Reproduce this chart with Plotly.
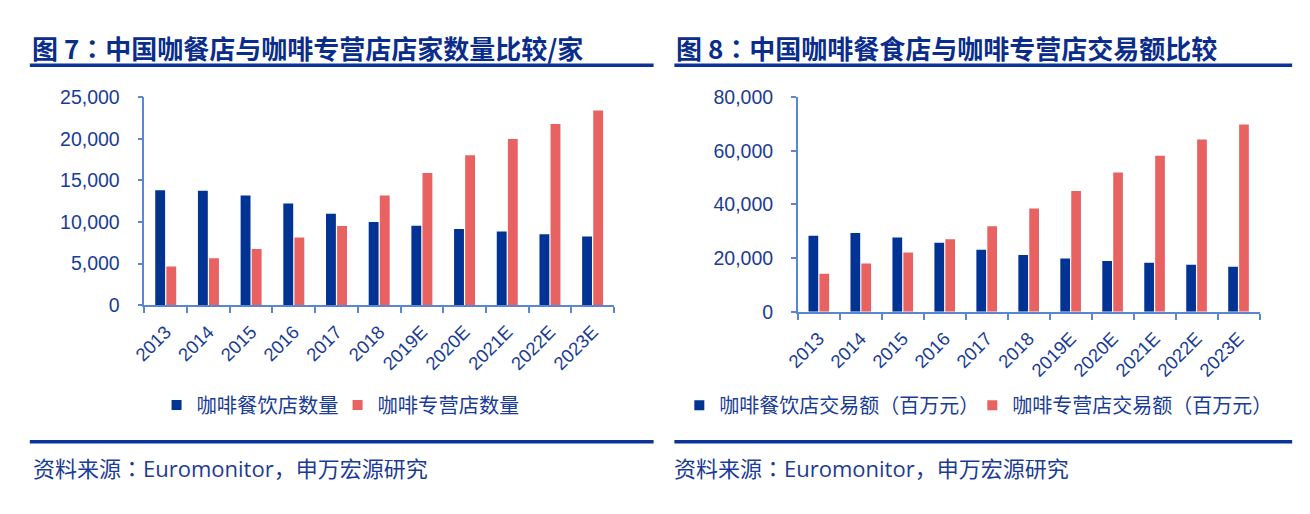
import plotly.graph_objects as go

W, H = 1310, 514

years = ["2013", "2014", "2015", "2016", "2017", "2018", "2019E", "2020E", "2021E", "2022E", "2023E"]

# Figure 7: number of stores
dining_stores = [13820, 13740, 13170, 12210, 10990, 10000, 9540, 9160, 8850, 8510, 8240]
specialty_stores = [4660, 5650, 6760, 8130, 9500, 13170, 15880, 18020, 19960, 21760, 23400]

# Figure 8: transaction value (million RMB)
dining_sales = [28330, 29390, 27730, 25720, 23110, 21210, 19910, 18960, 18250, 17540, 16830]
specialty_sales = [14220, 18010, 22160, 27020, 31880, 38520, 45040, 51910, 58190, 64240, 69810]

COLON = '<span style="font-family:\'Noto Sans CJK JP\'">：</span>'
COMMA = '<span style="font-family:\'Noto Sans CJK JP\'">，</span>'
title7 = "图 7" + COLON + "中国咖餐店与咖啡专营店店家数量比较/家"
title8 = "图 8" + COLON + "中国咖啡餐食店与咖啡专营店交易额比较"
names7 = ["咖啡餐饮店数量", "咖啡专营店数量"]
names8 = ["咖啡餐饮店交易额（百万元）", "咖啡专营店交易额（百万元）"]
source = "资料来源" + COLON + "Euromonitor" + COMMA + "申万宏源研究"

BLUE = "#003393"
RED = "#E86262"
TXT = "#1a3c96"
AXIS = "#5a86d4"
TITLE = "#0a2d8c"
CJK = "Noto Sans CJK SC"
NUM = "Liberation Sans, Arial"


def px(x):
    return x / W


def py(y):
    return 1 - y / H


fig = go.Figure()

for vals, col, nm in [(dining_stores, BLUE, names7[0]), (specialty_stores, RED, names7[1])]:
    fig.add_trace(go.Bar(x=years, y=vals, marker=dict(color=col, line=dict(width=0)),
                         name=nm, xaxis="x", yaxis="y", showlegend=False))
for vals, col, nm in [(dining_sales, BLUE, names8[0]), (specialty_sales, RED, names8[1])]:
    fig.add_trace(go.Bar(x=years, y=vals, marker=dict(color=col, line=dict(width=0)),
                         name=nm, xaxis="x2", yaxis="y2", showlegend=False))

# legend entries
for col, nm in [(BLUE, names7[0]), (RED, names7[1])]:
    fig.add_trace(go.Scatter(x=[None], y=[None], mode="markers", name=nm,
                             marker=dict(symbol="square", size=10, color=col),
                             xaxis="x", yaxis="y", legend="legend"))
for col, nm in [(BLUE, names8[0]), (RED, names8[1])]:
    fig.add_trace(go.Scatter(x=[None], y=[None], mode="markers", name=nm,
                             marker=dict(symbol="square", size=10, color=col),
                             xaxis="x2", yaxis="y2", legend="legend2"))

xcommon = dict(type="category", showline=True, linecolor=AXIS, linewidth=1.5,
               ticks="outside", tickson="boundaries", ticklen=6, tickcolor=AXIS, tickwidth=1.5,
               tickangle=-45, tickfont=dict(family=NUM, size=18.5, color=TXT), ticklabelstandoff=7,
               showgrid=False, zeroline=False, fixedrange=True)
ycommon = dict(showline=True, linecolor=AXIS, linewidth=1.5, ticks="outside", ticklen=5,
               tickcolor=AXIS, tickwidth=1.5, tickformat=",",
               tickfont=dict(family=NUM, size=19.5, color=TXT), ticklabelstandoff=14,
               showgrid=False, zeroline=False, fixedrange=True)

fig.update_layout(
    width=W, height=H, margin=dict(l=0, r=0, t=0, b=0),
    paper_bgcolor="white", plot_bgcolor="white",
    barmode="group", bargap=0.48, bargroupgap=0.11,
    xaxis=dict(domain=[px(132.7), px(607)], anchor="y", **xcommon),
    yaxis=dict(domain=[py(307.3), py(90)], anchor="x", range=[0, 25000], dtick=5000, **ycommon),
    xaxis2=dict(domain=[px(792.7), px(1259)], anchor="y2", **xcommon),
    yaxis2=dict(domain=[py(314.3), py(90)], anchor="x2", range=[0, 80000], dtick=20000, **ycommon),
    legend=dict(orientation="h", x=px(145), xanchor="left", y=py(412), yanchor="middle",
                font=dict(family=CJK, size=20.3, color=TXT), bgcolor="rgba(0,0,0,0)",
                itemwidth=30, traceorder="normal", entrywidth=136, entrywidthmode="pixels"),
    legend2=dict(orientation="h", x=px(673), xanchor="left", y=py(412), yanchor="middle",
                 font=dict(family=CJK, size=20, color=TXT), bgcolor="rgba(0,0,0,0)",
                 itemwidth=30, traceorder="normal", entrywidth=248, entrywidthmode="pixels"),
)

# titles
fig.add_annotation(text="<b>" + title7 + "</b>", xref="paper", yref="paper", x=px(17), y=py(38.5),
                   xanchor="left", yanchor="middle", showarrow=False,
                   font=dict(family=CJK, size=26, color=TITLE))
fig.add_annotation(text="<b>" + title8 + "</b>", xref="paper", yref="paper", x=px(668), y=py(38.5),
                   xanchor="left", yanchor="middle", showarrow=False,
                   font=dict(family=CJK, size=26, color=TITLE))
# sources
for x0 in (18, 666):
    fig.add_annotation(text=source, xref="paper", yref="paper", x=px(x0), y=py(476),
                       xanchor="left", yanchor="middle", showarrow=False,
                       font=dict(family="Open Sans, " + CJK, size=22, color=TXT))

# rules
for (x0, x1) in [(17, 647), (668, 1292)]:
    fig.add_shape(type="line", xref="paper", yref="paper", x0=px(x0), x1=px(x1), y0=py(56.7), y1=py(56.7),
                  line=dict(color="#0a3596", width=3.5))
    fig.add_shape(type="line", xref="paper", yref="paper", x0=px(x0), x1=px(x1), y0=py(450), y1=py(450),
                  line=dict(color="#0a3596", width=3.5))

fig.write_html("out.html")
